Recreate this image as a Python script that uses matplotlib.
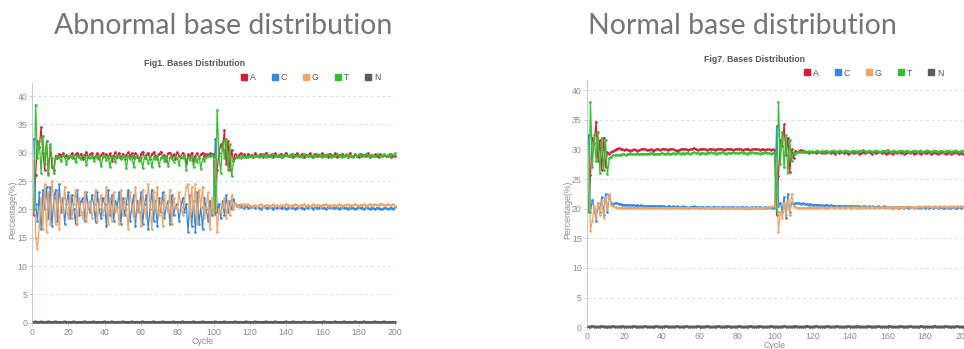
import matplotlib
matplotlib.use('Agg')
import matplotlib.pyplot as plt
from matplotlib.lines import Line2D
import numpy as np

# ---------------- data: abnormal run (Fig1) ----------------
abn_A = [
19.0, 26.0, 32.0, 31.0, 34.5, 30.0, 27.0, 32.0, 26.5, 31.0, 27.5, 27.0, 29.5, 29.0, 29.8, 29.5, 29.9, 29.2, 29.6, 29.0,
29.5, 29.9, 29.1, 29.7, 30.0, 29.3, 29.8, 28.9, 29.6, 30.1, 29.2, 29.7, 30.0, 29.0, 29.5, 29.9, 28.8, 29.6, 30.0, 29.4,
29.7, 29.1, 29.9, 28.6, 29.5, 30.1, 29.3, 30.0, 29.0, 29.8, 28.9, 29.6, 30.1, 29.4, 29.9, 29.0, 30.0, 29.3, 28.7, 29.8,
30.2, 29.1, 29.6, 30.0, 28.8, 29.7, 30.1, 29.5, 28.9, 29.8, 30.2, 29.3, 29.6, 28.5, 29.9, 30.0, 29.4, 29.7, 28.9, 30.1,
29.5, 29.2, 30.0, 29.6, 28.2, 29.8, 29.3, 30.0, 28.6, 29.5, 29.9, 29.1, 29.7, 30.0, 29.4, 29.8, 29.6, 29.9, 29.7, 29.8,
19.2, 27.0, 30.0, 31.5, 30.5, 34.0, 28.0, 32.0, 27.0, 30.5, 28.5, 29.8, 29.2, 29.6, 29.9, 29.4, 29.7, 29.3, 29.8, 29.5,
29.6, 29.2, 30.0, 29.4, 29.5, 29.8, 29.3, 29.6, 30.0, 29.4, 29.5, 29.7, 29.2, 29.9, 29.4, 29.5, 29.8, 29.3, 29.6, 30.0,
29.5, 29.4, 29.7, 29.2, 29.6, 29.9, 29.4, 29.5, 29.8, 29.3, 29.6, 29.4, 29.9, 29.5, 29.3, 29.8, 29.4, 29.6, 29.5, 29.9,
29.4, 29.6, 29.3, 29.8, 29.5, 29.4, 29.9, 29.3, 29.6, 29.5, 29.8, 29.4, 29.6, 29.3, 29.9, 29.5, 29.4, 29.7, 29.5, 29.3,
29.8, 29.4, 29.6, 29.5, 29.9, 29.3, 29.6, 29.4, 29.7, 29.5, 29.3, 29.8, 29.4, 29.6, 29.5, 29.4, 29.7, 29.3, 29.5, 29.4]
abn_C = [
32.5, 21.0, 18.0, 23.0, 16.5, 23.5, 20.0, 24.0, 18.5, 24.0, 17.0, 22.0, 23.5, 18.0, 24.5, 19.5, 22.0, 17.5, 21.0, 23.0,
18.5, 22.5, 20.0, 17.5, 23.5, 19.0, 21.5, 22.0, 18.0, 23.0, 20.5, 19.5, 22.5, 21.0, 17.8, 23.0, 20.0, 18.5, 22.0, 21.0,
17.0, 23.5, 19.0, 22.5, 18.0, 21.5, 20.5, 23.0, 17.5, 22.0, 19.0, 21.0, 23.5, 18.0, 20.5, 22.5, 17.0, 21.5, 19.5, 23.0,
17.5, 21.0, 22.5, 16.5, 20.0, 23.5, 18.0, 21.5, 17.0, 22.0, 19.5, 23.0, 18.5, 20.5, 21.5, 17.5, 22.5, 19.0, 20.5, 21.0,
18.0, 20.5, 22.0, 19.5, 21.0, 16.0, 22.5, 17.0, 21.5, 16.0, 23.0, 17.5, 20.5, 16.5, 22.0, 20.0, 18.0, 21.5, 19.0, 22.0,
32.5, 19.5, 21.0, 18.5, 21.5, 19.0, 22.5, 19.5, 21.5, 20.0, 21.8, 21.0, 20.6, 20.8, 20.4, 20.7, 20.3, 20.6, 20.2, 20.5,
20.4, 20.6, 20.2, 20.5, 20.3, 20.1, 20.4, 20.6, 20.3, 20.2, 20.5, 20.3, 20.1, 20.4, 20.2, 20.5, 20.3, 20.2, 20.4, 20.1,
20.3, 20.5, 20.2, 20.4, 20.1, 20.3, 20.5, 20.2, 20.3, 20.1, 20.4, 20.2, 20.5, 20.3, 20.1, 20.4, 20.2, 20.3, 20.5, 20.2,
20.3, 20.1, 20.4, 20.2, 20.5, 20.3, 20.2, 20.4, 20.1, 20.3, 20.5, 20.2, 20.3, 20.1, 20.4, 20.2, 20.3, 20.1, 20.2, 20.4,
20.2, 20.3, 20.1, 20.4, 20.2, 20.1, 20.3, 20.2, 20.1, 20.3, 20.2, 20.0, 20.1, 20.3, 20.2, 20.1, 20.2, 20.3, 20.1, 20.4]
abn_G = [
28.5, 15.0, 13.0, 17.0, 22.0, 16.5, 24.5, 16.0, 23.0, 17.5, 25.0, 21.5, 17.5, 23.0, 16.5, 22.0, 19.5, 24.0, 20.0, 18.5,
22.5, 18.5, 21.0, 23.5, 17.5, 22.0, 19.5, 18.5, 23.0, 18.0, 20.5, 21.5, 18.5, 20.0, 23.5, 18.0, 21.0, 22.5, 19.0, 20.5,
24.0, 17.5, 22.0, 18.0, 23.0, 19.5, 20.5, 17.5, 23.5, 19.0, 22.0, 20.0, 16.5, 23.0, 20.5, 18.5, 24.0, 19.5, 21.5, 17.0,
23.5, 20.0, 18.5, 24.5, 21.0, 16.5, 23.0, 19.5, 24.0, 19.0, 21.5, 17.0, 22.5, 20.5, 19.5, 23.5, 17.5, 22.0, 20.5, 20.0,
23.0, 20.5, 19.0, 21.5, 24.0, 24.5, 18.5, 24.0, 19.5, 24.5, 17.5, 23.5, 20.5, 24.0, 18.5, 20.5, 23.0, 16.5, 22.0, 19.0,
28.8, 16.0, 20.0, 19.5, 20.5, 22.0, 18.5, 21.5, 19.0, 22.5, 20.0, 21.0, 20.8, 20.5, 20.9, 20.6, 21.0, 20.7, 20.9, 20.6,
20.6, 20.4, 20.8, 20.5, 20.7, 20.9, 20.5, 20.4, 20.7, 20.8, 20.5, 20.7, 20.9, 20.6, 20.8, 20.5, 20.7, 20.8, 20.6, 20.9,
20.7, 20.5, 20.8, 20.6, 20.9, 20.7, 20.5, 20.8, 20.7, 20.9, 20.6, 20.8, 20.5, 20.7, 20.9, 20.6, 20.8, 20.7, 20.5, 20.8,
20.7, 20.9, 20.6, 20.8, 20.5, 20.7, 20.8, 20.6, 20.9, 20.7, 20.5, 20.8, 20.7, 20.9, 20.6, 20.8, 20.7, 20.9, 20.8, 20.6,
20.8, 20.7, 20.9, 20.6, 20.8, 20.9, 20.7, 20.8, 20.9, 20.7, 20.8, 21.0, 20.9, 20.7, 20.8, 20.9, 20.8, 20.7, 20.9, 20.6]
abn_T = [
20.0, 38.5, 29.0, 32.0, 26.5, 33.0, 28.0, 32.0, 26.0, 31.5, 29.0, 26.5, 29.0, 29.5, 29.2, 28.5, 29.6, 29.3, 28.0, 29.5,
29.4, 29.0, 29.6, 28.3, 29.5, 29.2, 28.8, 29.6, 29.3, 27.8, 29.5, 29.0, 29.4, 28.6, 29.5, 29.1, 29.6, 27.6, 29.3, 29.5,
28.7, 29.4, 27.4, 29.5, 29.0, 28.4, 29.6, 29.2, 28.8, 29.5, 29.3, 27.3, 29.4, 28.9, 29.5, 27.5, 29.2, 29.6, 28.6, 29.3,
27.3, 29.4, 29.0, 28.2, 29.5, 27.4, 29.2, 28.8, 29.6, 27.7, 29.1, 29.4, 28.5, 29.5, 27.6, 29.2, 29.0, 28.4, 29.5, 29.1,
27.9, 29.3, 29.0, 29.6, 27.0, 29.2, 28.7, 29.4, 27.5, 29.1, 28.4, 29.5, 27.2, 29.0, 28.6, 29.3, 29.5, 29.4, 29.6, 29.5,
19.5, 37.5, 29.5, 26.5, 32.0, 29.0, 32.5, 27.0, 31.5, 25.8, 28.5, 29.0, 29.2, 29.3, 29.1, 29.4, 29.2, 29.5, 29.3, 29.4,
29.3, 29.5, 29.4, 29.6, 29.2, 29.5, 29.7, 29.4, 29.3, 29.6, 29.5, 29.3, 29.7, 29.4, 29.5, 29.6, 29.3, 29.5, 29.4, 29.6,
29.4, 29.6, 29.3, 29.7, 29.5, 29.4, 29.6, 29.5, 29.3, 29.7, 29.4, 29.6, 29.5, 29.3, 29.6, 29.5, 29.7, 29.4, 29.6, 29.3,
29.6, 29.4, 29.7, 29.5, 29.3, 29.6, 29.5, 29.7, 29.4, 29.6, 29.3, 29.5, 29.7, 29.4, 29.6, 29.5, 29.3, 29.6, 29.4, 29.7,
29.5, 29.6, 29.4, 29.7, 29.5, 29.3, 29.6, 29.5, 29.4, 29.7, 29.6, 29.4, 29.5, 29.7, 29.4, 29.6, 29.5, 29.8, 29.6, 29.9]
abn_N = [
0.1, 0.2, 0.1, 0.1, 0.2, 0.1, 0.1, 0.1, 0.2, 0.1, 0.1, 0.1, 0.2, 0.1, 0.1, 0.1, 0.1, 0.2, 0.1, 0.1,
0.1, 0.1, 0.2, 0.1, 0.1, 0.1, 0.1, 0.1, 0.2, 0.1, 0.1, 0.1, 0.1, 0.2, 0.1, 0.1, 0.1, 0.1, 0.1, 0.2,
0.1, 0.1, 0.1, 0.2, 0.1, 0.1, 0.1, 0.1, 0.1, 0.2, 0.1, 0.1, 0.1, 0.1, 0.2, 0.1, 0.1, 0.1, 0.1, 0.1,
0.2, 0.1, 0.1, 0.1, 0.1, 0.1, 0.2, 0.1, 0.1, 0.1, 0.1, 0.2, 0.1, 0.1, 0.1, 0.1, 0.1, 0.2, 0.1, 0.1,
0.1, 0.1, 0.2, 0.1, 0.1, 0.1, 0.1, 0.1, 0.2, 0.1, 0.1, 0.1, 0.1, 0.2, 0.1, 0.1, 0.1, 0.1, 0.1, 0.1,
0.2, 0.1, 0.1, 0.1, 0.1, 0.2, 0.1, 0.1, 0.1, 0.1, 0.1, 0.2, 0.1, 0.1, 0.1, 0.1, 0.1, 0.2, 0.1, 0.1,
0.1, 0.1, 0.2, 0.1, 0.1, 0.1, 0.1, 0.1, 0.2, 0.1, 0.1, 0.1, 0.1, 0.2, 0.1, 0.1, 0.1, 0.1, 0.1, 0.2,
0.1, 0.1, 0.1, 0.2, 0.1, 0.1, 0.1, 0.1, 0.1, 0.2, 0.1, 0.1, 0.1, 0.1, 0.2, 0.1, 0.1, 0.1, 0.1, 0.1,
0.2, 0.1, 0.1, 0.1, 0.1, 0.1, 0.2, 0.1, 0.1, 0.1, 0.1, 0.2, 0.1, 0.1, 0.1, 0.1, 0.1, 0.2, 0.1, 0.1,
0.1, 0.1, 0.2, 0.1, 0.1, 0.1, 0.1, 0.1, 0.2, 0.1, 0.1, 0.1, 0.1, 0.2, 0.1, 0.1, 0.1, 0.1, 0.1, 0.1]

# ---------------- data: normal run (Fig7) ----------------
nor_A = [
19.5, 25.7, 32.0, 31.0, 34.7, 28.0, 31.5, 26.5, 32.0, 27.0, 29.5, 29.3, 29.6, 29.7, 29.9, 30.1, 30.2, 30.1, 30.0, 29.9,
30.0, 29.9, 29.8, 29.9, 30.0, 29.9, 29.8, 29.9, 30.0, 30.1, 30.0, 29.9, 29.9, 30.0, 29.8, 29.9, 30.0, 30.1, 29.9, 30.0,
30.1, 30.0, 29.9, 30.0, 30.1, 30.0, 29.9, 29.8, 29.9, 30.0, 30.1, 30.0, 30.0, 29.9, 30.0, 30.1, 30.2, 30.0, 29.9, 30.0,
30.0, 30.1, 30.0, 29.9, 30.0, 30.1, 30.0, 29.9, 30.0, 30.0, 30.1, 30.0, 29.9, 30.0, 30.1, 30.0, 30.0, 29.9, 30.0, 30.1,
30.0, 30.0, 29.9, 30.0, 30.1, 30.0, 29.9, 30.0, 30.0, 30.1, 30.0, 29.9, 30.0, 30.0, 29.9, 30.0, 30.0, 29.9, 30.0, 29.9,
19.0, 25.5, 31.5, 30.5, 34.2, 29.0, 32.0, 26.2, 30.0, 28.5, 29.8, 29.6, 29.7, 29.9, 29.8, 29.5, 29.6, 29.4, 29.5, 29.6,
29.5, 29.4, 29.5, 29.6, 29.4, 29.5, 29.4, 29.6, 29.5, 29.4, 29.5, 29.3, 29.5, 29.4, 29.6, 29.5, 29.4, 29.5, 29.3, 29.4,
29.5, 29.4, 29.6, 29.5, 29.3, 29.4, 29.5, 29.4, 29.6, 29.5, 29.4, 29.3, 29.5, 29.4, 29.5, 29.6, 29.4, 29.5, 29.3, 29.4,
29.5, 29.4, 29.3, 29.5, 29.4, 29.6, 29.4, 29.5, 29.3, 29.4, 29.5, 29.4, 29.5, 29.3, 29.4, 29.5, 29.4, 29.3, 29.5, 29.4,
29.4, 29.5, 29.3, 29.4, 29.5, 29.4, 29.3, 29.4, 29.5, 29.4, 29.3, 29.4, 29.5, 29.3, 29.4, 29.5, 29.4, 29.3, 29.4, 29.3]
nor_C = [
32.5, 19.5, 21.5, 20.0, 18.0, 21.0, 19.5, 22.0, 19.0, 22.5, 19.5, 22.3, 21.0, 20.8, 20.9, 21.0, 20.8, 20.8, 20.7, 20.7,
20.7, 20.6, 20.7, 20.6, 20.6, 20.5, 20.6, 20.5, 20.6, 20.5, 20.5, 20.4, 20.5, 20.5, 20.4, 20.5, 20.4, 20.4, 20.5, 20.4,
20.4, 20.3, 20.4, 20.4, 20.3, 20.4, 20.3, 20.4, 20.3, 20.3, 20.4, 20.3, 20.3, 20.2, 20.3, 20.3, 20.4, 20.3, 20.3, 20.2,
20.3, 20.3, 20.2, 20.3, 20.3, 20.2, 20.3, 20.3, 20.2, 20.3, 20.2, 20.3, 20.3, 20.2, 20.3, 20.2, 20.3, 20.3, 20.2, 20.3,
20.2, 20.3, 20.3, 20.2, 20.3, 20.2, 20.2, 20.3, 20.2, 20.3, 20.2, 20.3, 20.2, 20.2, 20.3, 20.2, 20.3, 20.2, 20.2, 20.3,
34.0, 20.5, 21.0, 19.5, 22.0, 18.5, 22.5, 19.5, 21.0, 20.8, 20.9, 21.0, 20.9, 20.8, 20.9, 20.8, 20.8, 20.7, 20.8, 20.7,
20.7, 20.6, 20.7, 20.6, 20.6, 20.5, 20.6, 20.6, 20.5, 20.6, 20.5, 20.5, 20.4, 20.5, 20.5, 20.4, 20.5, 20.4, 20.4, 20.5,
20.4, 20.4, 20.5, 20.4, 20.4, 20.3, 20.4, 20.4, 20.3, 20.4, 20.3, 20.4, 20.3, 20.3, 20.4, 20.3, 20.3, 20.4, 20.3, 20.3,
20.3, 20.3, 20.2, 20.3, 20.3, 20.2, 20.3, 20.3, 20.2, 20.3, 20.2, 20.3, 20.3, 20.2, 20.3, 20.2, 20.3, 20.2, 20.3, 20.2,
20.3, 20.2, 20.3, 20.2, 20.3, 20.3, 20.2, 20.3, 20.2, 20.2, 20.3, 20.2, 20.3, 20.2, 20.3, 20.2, 20.2, 20.3, 20.2, 20.3]
nor_G = [
28.5, 16.3, 18.0, 20.5, 18.5, 21.0, 19.0, 21.5, 18.5, 22.0, 20.0, 22.5, 20.6, 20.4, 20.3, 20.2, 20.2, 20.1, 20.2, 20.1,
20.2, 20.1, 20.2, 20.1, 20.2, 20.2, 20.1, 20.2, 20.1, 20.2, 20.2, 20.1, 20.2, 20.1, 20.2, 20.1, 20.2, 20.2, 20.1, 20.2,
20.1, 20.2, 20.2, 20.1, 20.2, 20.1, 20.2, 20.2, 20.1, 20.2, 20.2, 20.1, 20.2, 20.2, 20.1, 20.2, 20.1, 20.2, 20.2, 20.1,
20.2, 20.1, 20.2, 20.2, 20.1, 20.2, 20.2, 20.1, 20.2, 20.1, 20.2, 20.2, 20.1, 20.2, 20.2, 20.1, 20.2, 20.1, 20.2, 20.2,
20.1, 20.2, 20.2, 20.1, 20.2, 20.2, 20.1, 20.2, 20.2, 20.1, 20.2, 20.2, 20.1, 20.2, 20.2, 20.3, 20.3, 20.3, 20.4, 20.4,
27.5, 16.0, 19.5, 18.5, 21.0, 19.0, 21.5, 19.0, 22.5, 20.5, 20.3, 20.2, 20.2, 20.1, 20.2, 20.2, 20.1, 20.2, 20.2, 20.1,
20.2, 20.2, 20.1, 20.2, 20.3, 20.2, 20.2, 20.1, 20.2, 20.3, 20.2, 20.2, 20.3, 20.2, 20.2, 20.3, 20.2, 20.2, 20.3, 20.2,
20.2, 20.3, 20.2, 20.3, 20.2, 20.2, 20.3, 20.2, 20.3, 20.2, 20.3, 20.3, 20.2, 20.3, 20.2, 20.3, 20.3, 20.2, 20.3, 20.2,
20.3, 20.2, 20.3, 20.3, 20.2, 20.3, 20.3, 20.2, 20.3, 20.3, 20.4, 20.3, 20.3, 20.2, 20.3, 20.3, 20.4, 20.3, 20.3, 20.4,
20.3, 20.4, 20.3, 20.3, 20.4, 20.3, 20.3, 20.4, 20.3, 20.4, 20.3, 20.3, 20.4, 20.3, 20.4, 20.3, 20.4, 20.3, 20.4, 20.3]
nor_T = [
19.5, 38.0, 27.0, 32.5, 28.0, 33.0, 26.0, 32.0, 26.5, 31.5, 25.8, 28.5, 28.8, 29.0, 29.0, 29.1, 29.0, 29.1, 29.2, 29.2,
29.1, 29.2, 29.2, 29.3, 29.2, 29.2, 29.3, 29.2, 29.3, 29.3, 29.2, 29.3, 29.3, 29.4, 29.3, 29.3, 29.2, 29.3, 29.3, 29.4,
29.3, 29.3, 29.4, 29.3, 29.3, 29.4, 29.3, 29.4, 29.4, 29.3, 29.4, 29.3, 29.4, 29.4, 29.3, 29.4, 29.5, 29.4, 29.4, 29.3,
29.4, 29.4, 29.3, 29.4, 29.4, 29.5, 29.4, 29.4, 29.3, 29.4, 29.4, 29.5, 29.4, 29.3, 29.4, 29.4, 29.4, 29.5, 29.4, 29.4,
29.4, 29.5, 29.4, 29.4, 29.3, 29.4, 29.4, 29.5, 29.4, 29.4, 29.4, 29.3, 29.4, 29.4, 29.5, 29.4, 29.4, 29.3, 29.4, 29.3,
19.5, 38.0, 27.5, 33.0, 27.0, 32.5, 26.0, 31.5, 28.0, 29.5, 29.3, 29.5, 29.6, 29.5, 29.6, 29.7, 29.6, 29.7, 29.6, 29.7,
29.6, 29.7, 29.8, 29.6, 29.7, 29.6, 29.8, 29.7, 29.6, 29.7, 29.8, 29.7, 29.6, 29.7, 29.8, 29.6, 29.7, 29.8, 29.7, 29.6,
29.7, 29.8, 29.7, 29.6, 29.8, 29.7, 29.9, 29.7, 29.6, 29.8, 29.7, 29.6, 29.7, 29.8, 29.7, 29.6, 29.7, 29.8, 29.7, 29.9,
29.7, 29.6, 29.8, 29.7, 29.6, 29.7, 29.8, 29.7, 29.6, 29.8, 29.7, 29.6, 29.7, 29.8, 29.7, 29.6, 29.8, 29.7, 29.6, 29.7,
29.8, 29.7, 29.6, 29.7, 29.8, 29.7, 29.6, 29.7, 29.8, 29.6, 29.7, 29.8, 29.7, 29.6, 29.7, 29.8, 29.7, 29.6, 29.7, 29.7]
nor_N = [
0.1, 0.1, 0.2, 0.1, 0.1, 0.1, 0.1, 0.2, 0.1, 0.1, 0.1, 0.1, 0.1, 0.2, 0.1, 0.1, 0.1, 0.1, 0.2, 0.1,
0.1, 0.1, 0.1, 0.1, 0.2, 0.1, 0.1, 0.1, 0.1, 0.1, 0.2, 0.1, 0.1, 0.1, 0.1, 0.1, 0.2, 0.1, 0.1, 0.1,
0.1, 0.2, 0.1, 0.1, 0.1, 0.1, 0.1, 0.2, 0.1, 0.1, 0.1, 0.1, 0.2, 0.1, 0.1, 0.1, 0.1, 0.1, 0.2, 0.1,
0.1, 0.1, 0.1, 0.2, 0.1, 0.1, 0.1, 0.1, 0.1, 0.2, 0.1, 0.1, 0.1, 0.1, 0.2, 0.1, 0.1, 0.1, 0.1, 0.1,
0.2, 0.1, 0.1, 0.1, 0.1, 0.1, 0.2, 0.1, 0.1, 0.1, 0.1, 0.2, 0.1, 0.1, 0.1, 0.1, 0.1, 0.2, 0.1, 0.1,
0.1, 0.1, 0.1, 0.1, 0.2, 0.1, 0.1, 0.1, 0.1, 0.1, 0.2, 0.1, 0.1, 0.1, 0.1, 0.1, 0.2, 0.1, 0.1, 0.1,
0.1, 0.2, 0.1, 0.1, 0.1, 0.1, 0.1, 0.2, 0.1, 0.1, 0.1, 0.1, 0.2, 0.1, 0.1, 0.1, 0.1, 0.1, 0.2, 0.1,
0.1, 0.1, 0.1, 0.2, 0.1, 0.1, 0.1, 0.1, 0.1, 0.2, 0.1, 0.1, 0.1, 0.1, 0.2, 0.1, 0.1, 0.1, 0.1, 0.1,
0.2, 0.1, 0.1, 0.1, 0.1, 0.1, 0.2, 0.1, 0.1, 0.1, 0.1, 0.2, 0.1, 0.1, 0.1, 0.1, 0.1, 0.2, 0.1, 0.1,
0.1, 0.1, 0.1, 0.1, 0.2, 0.1, 0.1, 0.1, 0.1, 0.1, 0.2, 0.1, 0.1, 0.1, 0.1, 0.1, 0.2, 0.1, 0.1, 0.1]

bases = ['A', 'C', 'G', 'T', 'N']
colors = {'A': '#d81b3c', 'C': '#2f8ae5', 'G': '#f2a464', 'T': '#2fc22f', 'N': '#5c5c5c'}
panel_titles = ['Abnormal base distribution', 'Normal base distribution']
fig_titles = ['Fig1. Bases Distribution', 'Fig7. Bases Distribution']
x_ticks = [0, 20, 40, 60, 80, 100, 120, 140, 160, 180, 200]
y_ticks = [0, 5, 10, 15, 20, 25, 30, 35, 40]

abn = {'A': abn_A, 'C': abn_C, 'G': abn_G, 'T': abn_T, 'N': abn_N}
nor = {'A': nor_A, 'C': nor_C, 'G': nor_G, 'T': nor_T, 'N': nor_N}

W, H = 964, 349
fig = plt.figure(figsize=(W / 100, H / 100), dpi=100)
fig.patch.set_facecolor('white')

TICK_FONT = ['Liberation Sans', 'DejaVu Sans']
FS = 6.3

def px_rect(x0, x1, ybot, ytop):
    return [x0 / W, 1 - ybot / H, (x1 - x0) / W, (ybot - ytop) / H]

def make_panel(rect, ymax, data):
    ax = fig.add_axes(rect)
    for b in bases:
        vals = data[b]
        xs = np.arange(1, len(vals) + 1)
        if b == 'N':
            ax.plot(xs, vals, color=colors[b], lw=1.7, marker='o', ms=1.8, mew=0,
                    clip_on=False, zorder=3)
        else:
            ax.plot(xs, vals, color=colors[b], lw=0.9, marker='o', ms=1.9, mew=0,
                    clip_on=False, zorder=2)
    ax.set_xlim(0, 200)
    ax.set_ylim(0, ymax)
    ax.set_xticks(x_ticks)
    ax.set_yticks(y_ticks)
    ax.tick_params(axis='both', labelsize=FS, labelcolor='#8c8c8c', color='#c8c8c8',
                   length=2, width=0.6, pad=1.5)
    for lab in ax.get_xticklabels() + ax.get_yticklabels():
        lab.set_family(TICK_FONT)
    ax.yaxis.grid(True, linestyle=(0, (3, 3)), color='#dcdcdc', lw=0.7)
    ax.set_axisbelow(True)
    for s in ['top', 'right']:
        ax.spines[s].set_visible(False)
    ax.spines['left'].set_color('#b8cdea')
    ax.spines['left'].set_linewidth(0.7)
    ax.spines['bottom'].set_color('#cccccc')
    ax.spines['bottom'].set_linewidth(0.7)
    return ax

ax1 = make_panel(px_rect(32, 395, 322.7, 83), 42.3, abn)
ax2 = make_panel(px_rect(586.7, 962.7, 327.3, 80), 41.7, nor)

handles = [Line2D([], [], marker='s', ls='none', ms=4.6, color=colors[b]) for b in bases]

def legend_at(x, y):
    leg = fig.legend(handles, bases, loc='center left', bbox_to_anchor=(x / W, 1 - y / H),
                     ncol=5, frameon=False, handlelength=0.7,
                     handletextpad=0.3, columnspacing=1.85, borderpad=0, borderaxespad=0,
                     prop={'family': TICK_FONT, 'size': FS})
    for t in leg.get_texts():
        t.set_color('#555555')

legend_at(241, 78)
legend_at(804, 73)

title_font = ['Lato', 'Open Sans', 'DejaVu Sans']
fig.text(223 / W, 1 - 26 / H, panel_titles[0], ha='center', va='center', fontsize=20.5,
         color='#757575', family=title_font, fontweight='normal')
fig.text(742 / W, 1 - 26 / H, panel_titles[1], ha='center', va='center', fontsize=20.5,
         color='#757575', family=title_font, fontweight='normal')

fig.text(195 / W, 1 - 63 / H, fig_titles[0], ha='center', va='center', fontsize=FS,
         color='#555555', fontweight='bold', family=TICK_FONT)
fig.text(755 / W, 1 - 59 / H, fig_titles[1], ha='center', va='center', fontsize=FS,
         color='#555555', fontweight='bold', family=TICK_FONT)

fig.text(13 / W, 1 - 210 / H, 'Percentage(%)', rotation=90, ha='center', va='center',
         fontsize=FS, color='#8c8c8c', family=TICK_FONT)
fig.text(568 / W, 1 - 210 / H, 'Percentage(%)', rotation=90, ha='center', va='center',
         fontsize=FS, color='#8c8c8c', family=TICK_FONT)
fig.text(202 / W, 1 - 341.5 / H, 'Cycle', ha='center', va='center',
         fontsize=FS, color='#8c8c8c', family=TICK_FONT)
fig.text(775 / W, 1 - 346 / H, 'Cycle', ha='center', va='center',
         fontsize=FS, color='#8c8c8c', family=TICK_FONT)

fig.savefig('out.png', dpi=100, facecolor='white')
